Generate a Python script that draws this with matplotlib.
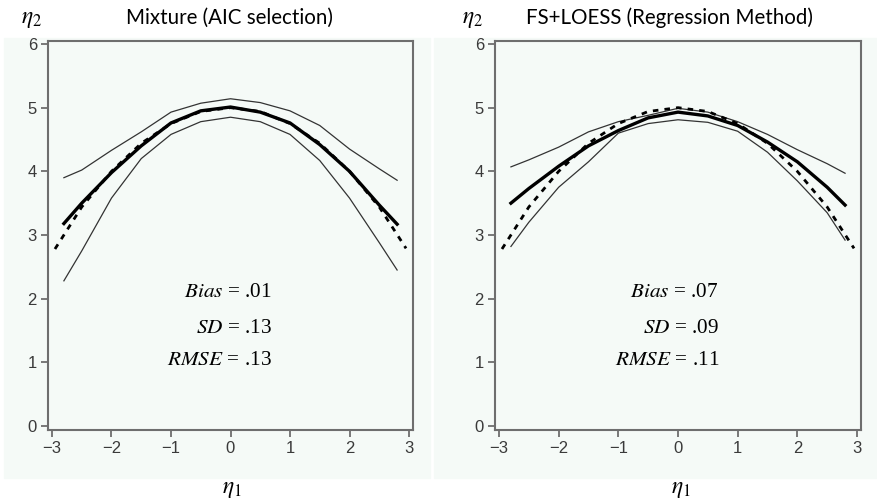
import matplotlib
matplotlib.use("Agg")
import matplotlib.pyplot as plt
from matplotlib.patches import Rectangle

plt.rcParams['mathtext.fontset'] = 'stix'

eta1 = [-2.8, -2.5, -2.0, -1.5, -1.0, -0.5, 0.0, 0.5, 1.0, 1.5, 2.0, 2.5, 2.8]

# true curve (dashed), spans a bit wider
true_x = [-2.95, -2.5, -2.0, -1.5, -1.0, -0.5, 0.0, 0.5, 1.0, 1.5, 2.0, 2.5, 2.95]
true_y = [2.78, 3.44, 4.00, 4.44, 4.75, 4.94, 5.00, 4.94, 4.75, 4.44, 4.00, 3.44, 2.79]

# Mixture (AIC selection)
mix_est = [3.18, 3.50, 3.98, 4.40, 4.76, 4.95, 5.01, 4.93, 4.76, 4.42, 4.00, 3.47, 3.17]
mix_upper = [3.90, 4.02, 4.33, 4.62, 4.93, 5.07, 5.14, 5.08, 4.95, 4.72, 4.35, 4.04, 3.86]
mix_lower = [2.28, 2.75, 3.58, 4.20, 4.58, 4.78, 4.85, 4.78, 4.58, 4.17, 3.58, 2.88, 2.45]

# FS+LOESS (Regression Method)
fs_est = [3.50, 3.73, 4.08, 4.40, 4.64, 4.84, 4.93, 4.87, 4.72, 4.46, 4.15, 3.75, 3.47]
fs_upper = [4.07, 4.18, 4.38, 4.62, 4.78, 4.88, 4.99, 4.93, 4.78, 4.58, 4.34, 4.12, 3.97]
fs_lower = [2.82, 3.20, 3.75, 4.15, 4.60, 4.75, 4.81, 4.77, 4.63, 4.30, 3.85, 3.35, 2.92]

titles = ["Mixture (AIC selection)", "FS+LOESS (Regression Method)"]
stats = [[("Bias", ".01"), ("SD", ".13"), ("RMSE", ".13")],
         [("Bias", ".07"), ("SD", ".09"), ("RMSE", ".11")]]
xticks = [-3, -2, -1, 0, 1, 2, 3]
yticks = [0, 1, 2, 3, 4, 5, 6]

W, H = 877, 500
bg = "#f5faf7"
spine_col = "#6e6e6e"

fig = plt.figure(figsize=(W / 100, H / 100), dpi=100)

# light panel backgrounds, behind the axes
fig.patches.append(Rectangle((4 / W, 1 - 478 / H), 426 / W, 440 / H,
                             transform=fig.transFigure, color=bg, zorder=-10))
fig.patches.append(Rectangle((434 / W, 1 - 478 / H), 443 / W, 440 / H,
                             transform=fig.transFigure, color=bg, zorder=-10))

panels = [(48, 365, mix_est, mix_upper, mix_lower),
          (495, 366, fs_est, fs_upper, fs_lower)]

for i, (left_px, width_px, est, upper, lower) in enumerate(panels):
    ax = fig.add_axes([left_px / W, 70 / H, width_px / W, 389.5 / H])
    ax.set_facecolor(bg)
    ax.plot(eta1, upper, color="#333333", lw=0.9)
    ax.plot(eta1, lower, color="#333333", lw=0.9)
    ax.plot(true_x, true_y, color="black", lw=2.0, ls=(0, (2, 2.2)))
    ax.plot(eta1, est, color="black", lw=2.4)

    ax.set_xlim(-3.067, 3.067)
    ax.set_ylim(-0.063, 6.055)
    ax.set_xticks(xticks)
    ax.set_yticks(yticks)
    ax.set_xticklabels([f"\u2212{abs(t)}" if t < 0 else str(t) for t in xticks])
    ax.tick_params(colors=spine_col, labelcolor="#3a3a3a", labelsize=12,
                   length=5, width=1.3, pad=3,
                   labelfontfamily="Liberation Sans")
    for s in ax.spines.values():
        s.set_color(spine_col)
        s.set_linewidth(1.5)

    # stats text, right aligned so the "=" line up
    for j, (name, val) in enumerate(stats[i]):
        y = [297, 333, 365][j]
        fig.text((272 + 447 * i) / W, 1 - y / H,
                 rf"$\mathit{{{name}}}$ = {val}", ha="right", va="baseline",
                 fontsize=15.3, family="Liberation Serif")

    fig.text((229 + 440 * i) / W, 1 - 18 / H, titles[i], ha="center",
             va="center", fontsize=14.8, family="Lato")
    fig.text((32 + 441 * i) / W, 1 - 18 / H, r"$\eta_2$", ha="center",
             va="center", fontsize=17)
    fig.text((232 + 449 * i) / W, 1 - 488 / H, r"$\eta_1$", ha="center",
             va="center", fontsize=17)

fig.savefig("out.png", dpi=100, facecolor="white")
